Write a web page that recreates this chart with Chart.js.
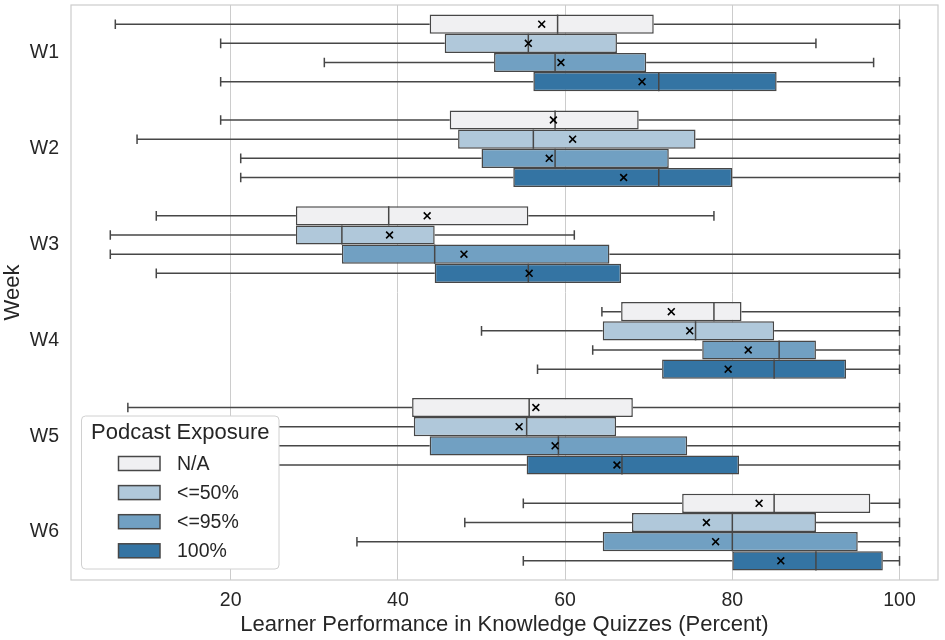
<!DOCTYPE html>
<html>
<head>
<meta charset="utf-8">
<script src="https://cdn.jsdelivr.net/npm/chart.js@4/dist/chart.umd.min.js"></script>
<style>
  html, body { margin: 0; padding: 0; background: #fff; }
  #wrap { width: 945px; height: 640px; }
</style>
</head>
<body>
<div id="wrap"><canvas id="c" width="945" height="640"></canvas></div>
<script>
const weeks = ['W1', 'W2', 'W3', 'W4', 'W5', 'W6'];
const groups = ['N/A', '<=50%', '<=95%', '100%'];
const groupColors = ['#f0f0f2', '#b0c8da', '#71a0c2', '#3474a3'];
const xTicks = [20, 40, 60, 80, 100];

// rows: groups (N/A, <=50%, <=95%, 100%); columns: weeks W1..W6
const whiskerLow = [
  [6.2, 18.8, 11.1, 64.4, 7.7, 55.0],
  [18.8, 8.8, 5.6, 50.0, 11.1, 48.0],
  [31.2, 21.2, 5.6, 63.3, 11.1, 35.1],
  [18.8, 21.2, 11.1, 56.7, 11.1, 55.0]
];
const quartile1 = [
  [43.8, 46.2, 27.8, 66.7, 41.7, 74.0],
  [45.6, 47.2, 27.8, 64.5, 41.9, 68.0],
  [51.5, 50.0, 33.3, 76.4, 43.8, 64.5],
  [56.2, 53.8, 44.4, 71.6, 55.4, 80.0]
];
const medians = [
  [59.1, 58.8, 38.9, 77.8, 55.7, 85.0],
  [55.6, 56.2, 33.3, 75.6, 55.4, 80.0],
  [58.8, 58.8, 44.4, 85.6, 59.2, 80.0],
  [71.2, 71.2, 55.6, 85.0, 66.8, 90.0]
];
const quartile3 = [
  [70.6, 68.8, 55.6, 81.1, 68.1, 96.5],
  [66.2, 75.6, 44.4, 85.0, 66.1, 90.0],
  [69.7, 72.4, 65.3, 90.0, 74.6, 95.0],
  [85.3, 80.0, 66.7, 93.6, 80.8, 98.0]
];
const whiskerHigh = [
  [100, 100, 77.8, 100, 100, 100],
  [90.0, 100, 61.1, 100, 100, 100],
  [96.9, 100, 100, 100, 100, 100],
  [100, 100, 100, 100, 100, 100]
];
const means = [
  [57.2, 58.6, 43.5, 72.7, 56.5, 83.2],
  [55.6, 60.9, 39.0, 74.9, 54.5, 76.9],
  [59.5, 58.1, 47.9, 81.9, 58.8, 78.0],
  [69.2, 67.0, 55.7, 79.5, 66.2, 85.8]
];

const FONT = "'Liberation Sans', Arial, sans-serif";
const TEXT = '#262626';
const EDGE = '#474747';

const boxPlugin = {
  id: 'boxExtras',
  beforeDatasetsDraw(chart) {
    const { ctx, scales: { x } } = chart;
    ctx.save();
    ctx.strokeStyle = EDGE;
    ctx.lineWidth = 1.5;
    chart.data.datasets.forEach((ds, di) => {
      const meta = chart.getDatasetMeta(di);
      meta.data.forEach((bar, i) => {
        const y = bar.y, h = bar.height;
        const lo = x.getPixelForValue(whiskerLow[di][i]);
        const q1 = x.getPixelForValue(quartile1[di][i]);
        const q3 = x.getPixelForValue(quartile3[di][i]);
        const hi = x.getPixelForValue(whiskerHigh[di][i]);
        const c = h * 0.25;
        ctx.beginPath();
        ctx.moveTo(lo, y); ctx.lineTo(q1, y);
        ctx.moveTo(q3, y); ctx.lineTo(hi, y);
        ctx.moveTo(lo, y - c); ctx.lineTo(lo, y + c);
        ctx.moveTo(hi, y - c); ctx.lineTo(hi, y + c);
        ctx.stroke();
      });
    });
    ctx.restore();
  },
  afterDatasetsDraw(chart) {
    const { ctx, chartArea: a, scales: { x } } = chart;
    ctx.save();
    chart.data.datasets.forEach((ds, di) => {
      const meta = chart.getDatasetMeta(di);
      meta.data.forEach((bar, i) => {
        const y = bar.y, h = bar.height;
        const m = x.getPixelForValue(medians[di][i]);
        ctx.strokeStyle = EDGE;
        ctx.lineWidth = 1.5;
        ctx.beginPath();
        ctx.moveTo(m, y - h / 2); ctx.lineTo(m, y + h / 2);
        ctx.stroke();
        const mx = x.getPixelForValue(means[di][i]);
        const s = 3.4;
        ctx.strokeStyle = '#000';
        ctx.lineWidth = 1.6;
        ctx.beginPath();
        ctx.moveTo(mx - s, y - s); ctx.lineTo(mx + s, y + s);
        ctx.moveTo(mx - s, y + s); ctx.lineTo(mx + s, y - s);
        ctx.stroke();
      });
    });
    // frame
    ctx.strokeStyle = '#cccccc';
    ctx.lineWidth = 1.2;
    ctx.strokeRect(a.left, a.top, a.right - a.left, a.bottom - a.top);
    ctx.restore();
  },
  afterDraw(chart) {
    const { ctx } = chart;
    ctx.save();
    const bx = 81.5, by = 416, bw = 197.5, bh = 153;
    ctx.fillStyle = '#ffffff';
    ctx.strokeStyle = '#d0d0d0';
    ctx.lineWidth = 1;
    ctx.beginPath();
    ctx.roundRect(bx, by, bw, bh, 4);
    ctx.fill();
    ctx.stroke();
    ctx.fillStyle = TEXT;
    ctx.textBaseline = 'middle';
    ctx.textAlign = 'left';
    ctx.font = '22px ' + FONT;
    ctx.fillText('Podcast Exposure', 91, 433);
    ctx.font = '19.5px ' + FONT;
    groups.forEach((g, k) => {
      const cy = 463.5 + k * 29.1;
      ctx.fillStyle = groupColors[k];
      ctx.fillRect(118.5, cy - 7, 41.5, 14);
      ctx.strokeStyle = EDGE;
      ctx.lineWidth = 1.5;
      ctx.strokeRect(118.5, cy - 7, 41.5, 14);
      ctx.fillStyle = TEXT;
      ctx.fillText(g, 177, cy + 1);
    });
    ctx.restore();
  }
};

const datasets = groups.map((g, di) => ({
  label: g,
  data: weeks.map((w, i) => [quartile1[di][i], quartile3[di][i]]),
  backgroundColor: groupColors[di],
  borderColor: EDGE,
  borderWidth: 1.5,
  borderSkipped: false,
  categoryPercentage: 0.8,
  barPercentage: 1.0
}));

new Chart(document.getElementById('c'), {
  type: 'bar',
  data: { labels: weeks, datasets },
  options: {
    indexAxis: 'y',
    responsive: false,
    animation: false,
    devicePixelRatio: 1,
    layout: { padding: { left: 0, top: 5, right: 7, bottom: 0 } },
    plugins: { legend: { display: false }, tooltip: { enabled: false } },
    scales: {
      x: {
        type: 'linear',
        min: 0.9,
        max: 104.6,
        afterBuildTicks(scale) { scale.ticks = xTicks.map(v => ({ value: v })); },
        afterFit(scale) { scale.height = 60; scale.paddingLeft = 0; scale.paddingRight = 0; },
        grid: { color: '#cccccc', lineWidth: 1, drawTicks: false },
        border: { display: false },
        ticks: { font: { family: FONT, size: 19.5 }, color: TEXT, padding: 9, maxRotation: 0 },
        title: {
          display: true,
          text: 'Learner Performance in Knowledge Quizzes (Percent)',
          font: { family: FONT, size: 22 },
          color: TEXT,
          padding: { top: 0, bottom: 2 }
        }
      },
      y: {
        type: 'category',
        afterFit(scale) { scale.width = 71; scale.paddingTop = 0; scale.paddingBottom = 0; },
        grid: { display: false, drawTicks: false },
        border: { display: false },
        ticks: { font: { family: FONT, size: 19.5 }, color: TEXT, padding: 12 },
        title: {
          display: true,
          text: 'Week',
          font: { family: FONT, size: 22 },
          color: TEXT,
          padding: { top: 0, bottom: 0 }
        }
      }
    }
  },
  plugins: [boxPlugin]
});
</script>
</body>
</html>
